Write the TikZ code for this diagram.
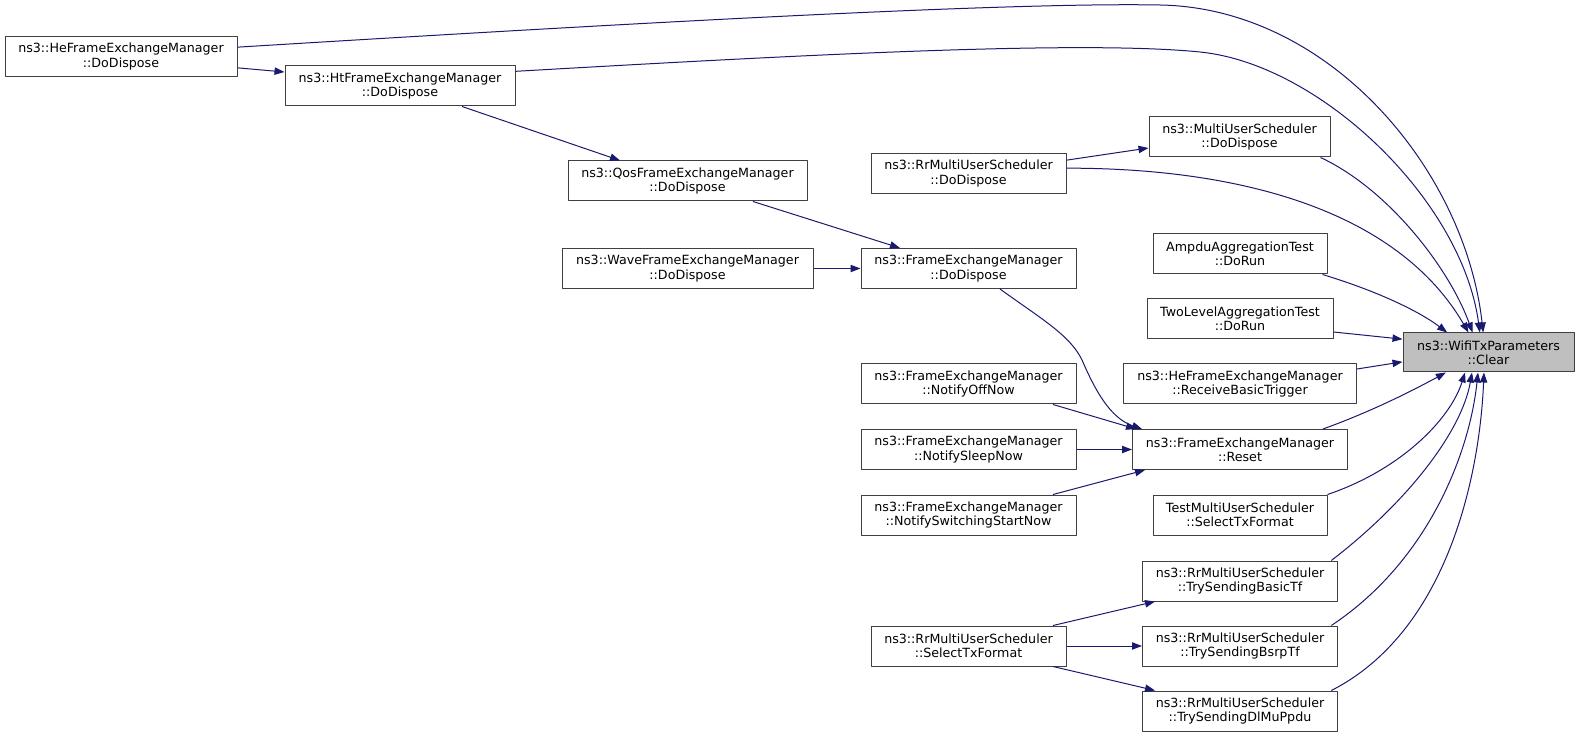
\documentclass[tikz,border=0pt]{standalone}
\usepackage{fontspec}
\setmainfont{DejaVu Sans}
\usepackage{xcolor}
\definecolor{edgeblue}{RGB}{25,25,112}
\definecolor{boxgray}{RGB}{191,191,191}
\usetikzlibrary{arrows.meta}
\tikzset{
    fn/.style = {draw=black!75, line width=0.75pt, fill=white, align=center,
        minimum height=30pt, inner sep=1pt, font=\fontsize{9.5}{10.75}\selectfont},
    call/.style = {draw=edgeblue, line width=0.75pt, -{Triangle[length=7.5pt,width=5.5pt]}}
}

\begin{document}
\begin{tikzpicture}[x=0.75pt,y=-0.75pt,line join=round]
\useasboundingbox (0,0) rectangle (1580,737);

\node[fn, minimum width=174pt] (he) at (121,56.5) {ns3::HeFrameExchangeManager\\::DoDispose};
\node[fn, minimum width=172.5pt] (ht) at (400,86) {ns3::HtFrameExchangeManager\\::DoDispose};
\node[fn, minimum width=179.25pt] (qos) at (687.5,181) {ns3::QosFrameExchangeManager\\::DoDispose};
\node[fn, minimum width=188.25pt] (wave) at (687.5,268.5) {ns3::WaveFrameExchangeManager\\::DoDispose};
\node[fn, minimum width=161.25pt] (femdd) at (968.5,268.5) {ns3::FrameExchangeManager\\::DoDispose};
\node[fn, minimum width=146.25pt] (rrdd) at (968.5,173.5) {ns3::RrMultiUserScheduler\\::DoDispose};
\node[fn, minimum width=161.25pt] (offnow) at (968.5,384) {ns3::FrameExchangeManager\\::NotifyOffNow};
\node[fn, minimum width=161.25pt] (sleepnow) at (968.5,449.5) {ns3::FrameExchangeManager\\::NotifySleepNow};
\node[fn, minimum width=161.25pt] (switchnow) at (968.5,515) {ns3::FrameExchangeManager\\::NotifySwitchingStartNow};
\node[fn, minimum width=146.25pt] (selecttx) at (968.5,646) {ns3::RrMultiUserScheduler\\::SelectTxFormat};

\node[fn, minimum width=135.75pt] (musdd) at (1239.5,137) {ns3::MultiUserScheduler\\::DoDispose};
\node[fn, minimum width=130.5pt] (ampdu) at (1240,254) {AmpduAggregationTest\\::DoRun};
\node[fn, minimum width=139.5pt] (twolevel) at (1240,319) {TwoLevelAggregationTest\\::DoRun};
\node[fn, minimum width=174.75pt] (basictrig) at (1240,384) {ns3::HeFrameExchangeManager\\::ReceiveBasicTrigger};
\node[fn, minimum width=161.25pt] (reset) at (1240,449.5) {ns3::FrameExchangeManager\\::Reset};
\node[fn, minimum width=130.5pt] (testmus) at (1240,515) {TestMultiUserScheduler\\::SelectTxFormat};
\node[fn, minimum width=146.25pt] (basictf) at (1240,581) {ns3::RrMultiUserScheduler\\::TrySendingBasicTf};
\node[fn, minimum width=146.25pt] (bsrptf) at (1240,646) {ns3::RrMultiUserScheduler\\::TrySendingBsrpTf};
\node[fn, minimum width=146.25pt] (dlmu) at (1240,711) {ns3::RrMultiUserScheduler\\::TrySendingDlMuPpdu};

\node[fn, fill=boxgray, minimum width=128.25pt, minimum height=29.25pt] (clear) at (1488.5,352.5) {ns3::WifiTxParameters\\::Clear};

\draw[call] ([yshift=-8.5pt]he.east) -- ([yshift=10.5pt]ht.west);
\draw[call] ([xshift=46.5pt]ht.south) -- ([xshift=-50.6pt]qos.north);
\draw[call] ([xshift=49.1pt]qos.south) -- ([xshift=-51.4pt]femdd.north);
\draw[call] (wave.east) -- (femdd.west);
\draw[call] ([yshift=10pt]rrdd.east) -- ([yshift=-8.25pt]musdd.west);
\draw[call] ([xshift=23.6pt]femdd.south) .. controls (1040,318) and (1070,335) .. (1082,360)
    .. controls (1095,390) and (1110,418) .. ([xshift=7.5pt]reset.north west);
\draw[call] ([xshift=63.4pt]offnow.south) -- ([xshift=3pt]reset.north west);
\draw[call] (sleepnow.east) -- (reset.west);
\draw[call] ([xshift=63.4pt]switchnow.north) -- ([xshift=9.75pt]reset.south west);
\draw[call] ([xshift=63.4pt]selecttx.north) -- ([xshift=9.75pt]basictf.south west);
\draw[call] (selecttx.east) -- (bsrptf.west);
\draw[call] ([xshift=63.4pt]selecttx.south) -- ([xshift=9.75pt]dlmu.north west);

\draw[call] ([yshift=7pt]he.east) .. controls (600,25) and (1000,2) .. (1160,5)
    .. controls (1330,8) and (1465,170) .. ([xshift=-4pt]clear.north);
\draw[call] ([yshift=11pt]ht.east) .. controls (800,55) and (1080,40) .. (1200,52)
    .. controls (1320,64) and (1462,200) .. ([xshift=-6.5pt]clear.north);
\draw[call] ([xshift=-7.5pt]musdd.south east) .. controls (1390,190) and (1450,270) .. ([xshift=-12pt]clear.north);
\draw[call] ([yshift=4pt]rrdd.east) .. controls (1250,168) and (1400,215) .. ([xshift=-15pt]clear.north);
\draw[call] ([xshift=-3.75pt]ampdu.south east) .. controls (1380,292) and (1420,312) .. ([xshift=-31pt]clear.north);
\draw[call] ([yshift=-9.75pt]twolevel.east) -- ([yshift=10pt]clear.west);
\draw[call] ([yshift=11.25pt]basictrig.east) -- ([yshift=-7pt]clear.west);
\draw[call] ([xshift=-18.75pt]reset.north east) .. controls (1370,412) and (1410,392) .. ([xshift=-32pt]clear.south);
\draw[call] (testmus.north east) .. controls (1400,470) and (1450,420) .. ([xshift=-17.6pt]clear.south);
\draw[call] ([xshift=-5pt]basictf.north east) .. controls (1410,500) and (1462,430) .. ([xshift=-12.4pt]clear.south);
\draw[call] ([xshift=-5pt]bsrptf.north east) .. controls (1430,560) and (1470,450) .. ([xshift=-7.9pt]clear.south);
\draw[call] ([xshift=-5pt]dlmu.north east) .. controls (1450,630) and (1480,470) .. ([xshift=-3.4pt]clear.south);
\end{tikzpicture}
\end{document}
